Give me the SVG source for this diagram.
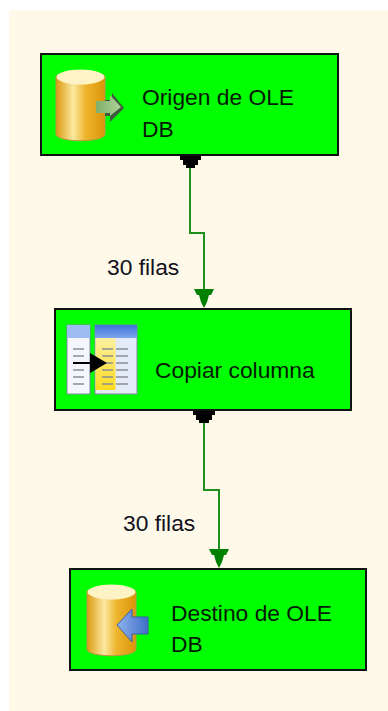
<svg xmlns="http://www.w3.org/2000/svg" width="388" height="711" viewBox="0 0 388 711">
<style>
.box{fill:#00ff00;stroke:#111;stroke-width:2}
.t{font-family:"Liberation Sans",Arial,sans-serif;font-size:22.8px;fill:#041a04}
.l{font-family:"Liberation Sans",Arial,sans-serif;font-size:22.8px;fill:#111122}
.c{fill:none;stroke:#1f9020;stroke-width:2}
.h{fill:#008000}
.d{fill:#000}
.rl{stroke:#8a8f94;stroke-width:1.6}
.ic{filter:url(#soft)}
</style>
<defs>
<filter id="soft" x="-10%" y="-10%" width="120%" height="120%"><feGaussianBlur stdDeviation="0.5"/></filter>
<linearGradient id="gold" x1="0" x2="1" y1="0" y2="0">
<stop offset="0" stop-color="#dc9a10"/><stop offset=".35" stop-color="#fbe9a0"/><stop offset=".6" stop-color="#eeb52e"/><stop offset="1" stop-color="#d99508"/>
</linearGradient>
<linearGradient id="grn" x1="0" x2="1" y1="0" y2="0"><stop offset="0" stop-color="#7fae68"/><stop offset="1" stop-color="#aed49a"/></linearGradient>
<linearGradient id="blu" x1="0" x2="1" y1="0" y2="0"><stop offset="0" stop-color="#8fb2ec"/><stop offset="1" stop-color="#3f6fc8"/></linearGradient>
<linearGradient id="hd" x1="0" x2="0" y1="0" y2="1"><stop offset="0" stop-color="#3f72d8"/><stop offset="1" stop-color="#7ea6ec"/></linearGradient>
<linearGradient id="yl" x1="0" x2="0" y1="0" y2="1"><stop offset="0" stop-color="#fdf0a0"/><stop offset="1" stop-color="#fddc20"/></linearGradient>
<g id="cyl">
<path d="M0 8C0 1 49 1 49 8V65C49 74 0 74 0 65Z" fill="url(#gold)" stroke="#b9974a" stroke-width="1"/>
<ellipse cx="24.500" cy="8" rx="24" ry="7.500" fill="#fdf3c4"/>
</g>
</defs>
<rect width="388" height="711" fill="#fff"/>
<rect x="9" y="10" width="379" height="701" fill="#fef9e8"/>
<g id="connectors">
<path class="c" d="M190 160V233H204V296"/>
<path class="d" d="M180 155H201V160H198V165H195V168H186V165H183V160H180Z"/>
<path class="h" d="M194 289H214L211 295H209L207 302L204 308L201 302L199 295H197Z"/>
<path class="c" d="M204 415V490H219V556"/>
<path class="d" d="M193 410H215V415H212V420H209V423H199V420H196V415H193Z"/>
<path class="h" d="M209 549H229L226 555H224L222 562L219 568L216 562L214 555H212Z"/>
</g>
<text class="l" x="107" y="275">30 filas</text>
<text class="l" x="123" y="531">30 filas</text>
<g id="origen">
<rect class="box" x="41" y="54" width="297" height="101"/>
<g class="ic">
<use href="#cyl" x="56" y="69"/>
<path d="M105 100H112V93L124 108L110 122V116H105Z" fill="#3f5a3c"/>
<path d="M96 101H110V95L121 107L110 116V113H96Z" fill="url(#grn)"/>
</g>
<text class="t" x="142" y="105">Origen de OLE</text>
<text class="t" x="142" y="137">DB</text>
</g>
<g id="copiar">
<rect class="box" x="55" y="309" width="296" height="101"/>
<g class="ic">
<rect x="67" y="325" width="23" height="69" fill="#f4f6fb" stroke="#7f8aa0"/>
<rect x="67" y="325" width="23" height="13" fill="#9dbcf2"/>
<rect x="95" y="325" width="42" height="69" fill="#e4ebf8" stroke="#7f8aa0"/>
<rect x="95" y="325" width="42" height="13" fill="url(#hd)"/>
<rect x="95.500" y="338" width="20" height="52" fill="url(#yl)"/>
<g class="rl">
<path d="M73 349H84M73 356H84M73 363H84M73 370H84M73 377H84M73 384H84"/>
<path d="M102 349H113M102 356H113M102 363H113M102 370H113M102 377H113M102 384H113"/>
<path d="M116 349H128M116 356H128M116 363H128M116 370H128M116 377H128M116 384H128"/>
</g>
<path d="M73 363H92" stroke="#000" stroke-width="2"/>
<path d="M90 353L107 363L90 373Z" fill="#000"/>
</g>
<text class="t" x="155" y="378">Copiar columna</text>
</g>
<g id="destino">
<rect class="box" x="70" y="569" width="296" height="101"/>
<g class="ic">
<use href="#cyl" x="87" y="584"/>
<path d="M117 625L132 609V617H148V634H132V642Z" fill="url(#blu)" stroke="#3a5fa8" stroke-width="1"/>
</g>
<text class="t" x="171" y="621">Destino de OLE</text>
<text class="t" x="171" y="652">DB</text>
</g>
</svg>
